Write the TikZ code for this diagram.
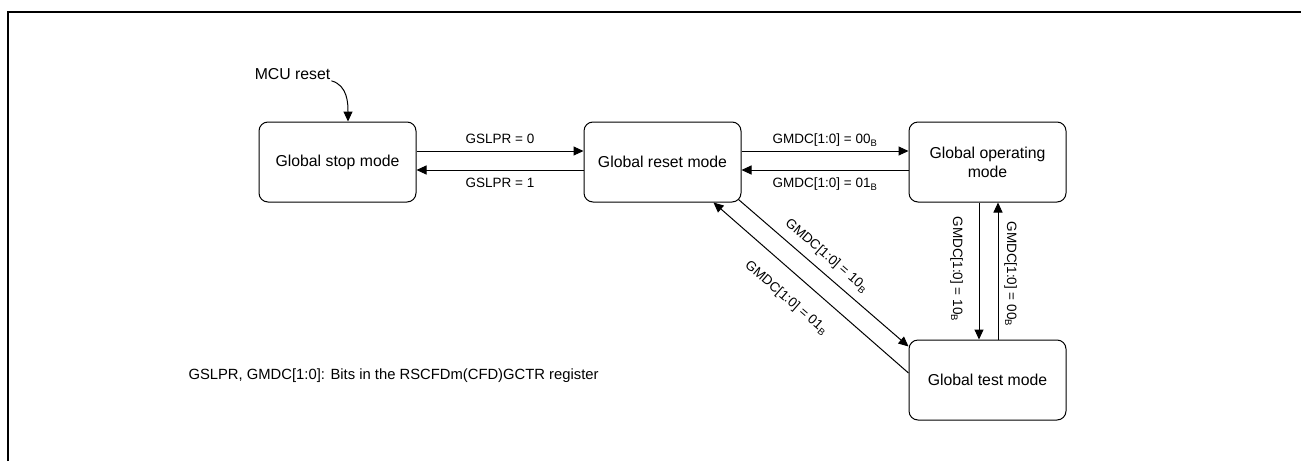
\documentclass[tikz,border=0pt]{standalone}
\usepackage{fontspec}
\setmainfont{Liberation Sans}
\usetikzlibrary{arrows.meta}
\begin{document}
\begin{tikzpicture}[x=1pt,y=1pt,
  state/.style={draw, line width=1pt, rounded corners=9pt, minimum width=157pt, minimum height=80pt,
    align=center, font=\fontsize{15.8}{19.3}\selectfont, inner sep=0pt},
  trans/.style={line width=1pt, -{Triangle[length=10pt,width=9pt]}},
  lbl/.style={font=\fontsize{13.5}{16}\selectfont, inner sep=0pt, text height=9.7pt, text depth=0pt},
  big/.style={font=\fontsize{15.8}{18}\selectfont, inner sep=0pt, text height=11.3pt, text depth=0pt},
  frame/.style={line width=2pt}
]
\useasboundingbox (0,0) rectangle (1301,-461);
\draw[frame] (7.7,-461) -- (7.7,-12.3) -- (1301,-12.3);

\node[state] (stop)  at (337.5,-162) {Global stop mode};
\node[state] (reset) at (662.5,-162) {Global reset mode};
\node[state] (op)    at (987.5,-162) {Global operating\\mode};
\node[state] (test)  at (987.5,-380) {Global test mode};

\node[big] (mcu) at (292.5,-74) {MCU reset};
\node[lbl, font=\fontsize{14.8}{17}\selectfont, text height=10.6pt, anchor=west] (note) at (188.3,-374) {GSLPR, GMDC[1:0]: Bits in the RSCFDm(CFD)GCTR register};

\draw[trans] ([xshift=1pt,yshift=-1pt]mcu.south east) to[out=-15, in=90] ([xshift=10.5pt]stop.north);

\draw[trans] ([yshift=11pt]stop.east) -- node[lbl, midway, yshift=12pt]{GSLPR = 0} ([yshift=11pt]reset.west);
\draw[trans] ([yshift=-8pt]reset.west) -- node[lbl, midway, yshift=-13pt]{GSLPR = 1} ([yshift=-8pt]stop.east);
\draw[trans] ([yshift=11pt]reset.east) -- node[lbl, midway, yshift=12pt]{GMDC[1:0] = 00\textsubscript{B}} ([yshift=11pt]op.west);
\draw[trans] ([yshift=-8pt]op.west) -- node[lbl, midway, yshift=-13pt]{GMDC[1:0] = 01\textsubscript{B}} ([yshift=-8pt]reset.east);

\draw[trans] ([xshift=-8.5pt]op.south) -- node[lbl, pos=0.486, xshift=-21pt, rotate=-90]{GMDC[1:0] = 10\textsubscript{B}} ([xshift=-8.5pt]test.north);
\draw[trans] ([xshift=10.5pt]test.north) -- node[lbl, pos=0.478, xshift=14pt, rotate=-90]{GMDC[1:0] = 00\textsubscript{B}} ([xshift=10.5pt]op.south);

\draw[trans] ([xshift=-3pt,yshift=3pt]reset.south east) -- node[lbl, pos=0.46, xshift=10.7pt, yshift=12.3pt, rotate=-41]{GMDC[1:0] = 10\textsubscript{B}} ([yshift=-7pt]test.north west);
\draw[trans] ([yshift=7pt]test.west) -- node[lbl, pos=0.546, xshift=-15pt, yshift=-17.3pt, rotate=-41]{GMDC[1:0] = 01\textsubscript{B}} ([xshift=-28pt]reset.south east);
\end{tikzpicture}
\end{document}
